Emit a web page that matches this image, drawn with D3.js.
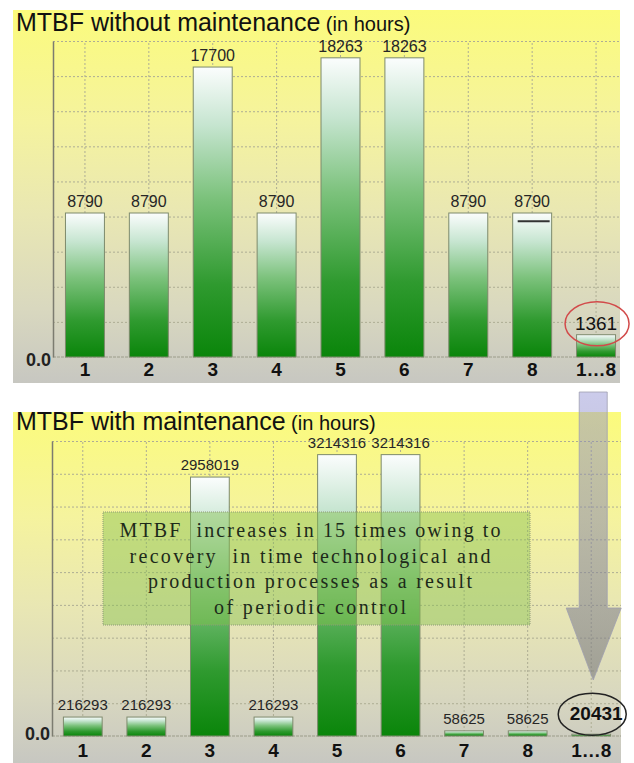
<!DOCTYPE html>
<html>
<head>
<meta charset="utf-8">
<script src="https://cdn.jsdelivr.net/npm/d3@7"></script>
<style>
    body { margin: 0; background: #ffffff; }
    svg { display: block; }
    text { font-family: "Liberation Sans", Arial, sans-serif; }
</style>
</head>
<body>
<div id="chart"></div>
<script>

// data
let categories = ["1", "2", "3", "4", "5", "6", "7", "8", "1…8"];
let mtbfWithout = [8790, 8790, 17700, 8790, 18263, 18263, 8790, 8790, 1361];
let mtbfWith = [216293, 216293, 2958019, 216293, 3214316, 3214316, 58625, 58625, 20431];
let axisMaxWithout = 19290;
let axisMaxWith = 3370000;
let gridCount = 9;
let strayMark = {category: "8", value: 8280};
let noteLines = [
    "MTBF  increases in 15 times owing to",
    "recovery  in time technological and",
    "production processes as a result",
    "of periodic control"
];
let noteWidths = [381, 361, 324, 192];


/* * * * * * * * * * * * * *
*      class MtbfPanel     *
* * * * * * * * * * * * * */

class MtbfPanel {

    constructor(svg, values, opts) {
        this.svg = svg;
        this.values = values;
        this.opts = opts;
        this.initVis();
    }

    initVis() {
        let vis = this;
        let o = vis.opts;

        vis.g = vis.svg.append("g");

        // panel background
        vis.g.append("rect")
            .attr("x", o.left)
            .attr("y", o.top)
            .attr("width", o.right - o.left)
            .attr("height", o.bottom - o.top)
            .attr("fill", "url(#panelBg)");

        vis.x = d3.scaleBand()
            .domain(categories)
            .range([o.plotLeft, o.plotRight])
            .paddingInner(0.39)
            .paddingOuter(0.195);

        vis.y = d3.scaleLinear()
            .domain([0, o.yMax])
            .range([o.baseY, o.gridTop]);

        // horizontal grid
        let gridVals = d3.range(1, gridCount + 1).map(i => o.yMax * i / gridCount);
        vis.g.append("g")
            .attr("transform", `translate(${o.axisX},0)`)
            .call(d3.axisLeft(vis.y).tickValues(gridVals).tickSize(-(o.gridRight - o.axisX)).tickFormat(""))
            .call(g => g.select(".domain").remove())
            .selectAll("line")
            .attr("stroke", "#aead94")
            .attr("stroke-dasharray", "2,2");

        // vertical grid through bar centres
        vis.g.append("g")
            .attr("transform", `translate(0,${o.baseY})`)
            .call(d3.axisBottom(vis.x).tickSize(-(o.baseY - o.gridTop)).tickFormat(""))
            .call(g => g.select(".domain").remove())
            .selectAll("line")
            .attr("stroke", "#aead94")
            .attr("stroke-dasharray", "2,2");

        // baseline
        vis.g.append("line")
            .attr("x1", o.axisX).attr("x2", o.gridRight)
            .attr("y1", o.baseY).attr("y2", o.baseY)
            .attr("stroke", "#9c9c8a")
            .attr("stroke-dasharray", "3,1");

        // y axis, only 0.0 is labelled
        let yAxisG = vis.g.append("g")
            .attr("transform", `translate(${o.axisX},0)`)
            .call(d3.axisLeft(vis.y).tickValues([0]).tickSize(0).tickSizeOuter(0).tickPadding(2).tickFormat(d3.format(".1f")));
        yAxisG.select(".domain").attr("stroke", "#7c7c70").attr("stroke-width", 1.5);
        yAxisG.selectAll("text")
            .attr("dy", o.zeroDy)
            .attr("font-size", 18)
            .attr("font-weight", "bold")
            .attr("fill", "#222");

        // x axis labels
        let xAxisG = vis.g.append("g")
            .attr("transform", `translate(0,${o.baseY})`)
            .call(d3.axisBottom(vis.x).tickSize(0).tickPadding(o.labelPad));
        xAxisG.select(".domain").remove();
        xAxisG.selectAll("text")
            .attr("font-size", 19)
            .attr("font-weight", "bold")
            .attr("fill", "#111");

        // title
        let title = vis.g.append("text")
            .attr("x", 16)
            .attr("y", o.titleY)
            .attr("fill", "#111");
        title.append("tspan").attr("font-size", 25).text(o.title);
        title.append("tspan").attr("font-size", 20).text(" (in hours)");

        vis.updateVis();
    }

    updateVis() {
        let vis = this;
        let o = vis.opts;
        let data = categories.map((c, i) => ({cat: c, val: vis.values[i], last: i === categories.length - 1}));

        vis.g.selectAll(".bar")
            .data(data)
            .join("rect")
            .attr("class", "bar")
            .attr("x", d => vis.x(d.cat))
            .attr("y", d => vis.y(d.val))
            .attr("width", vis.x.bandwidth())
            .attr("height", d => o.baseY - vis.y(d.val))
            .attr("fill", "url(#barFill)")
            .attr("stroke", "#7d8a6c")
            .attr("stroke-width", 1);

        vis.g.selectAll(".val")
            .data(data.filter(d => !d.last))
            .join("text")
            .attr("class", "val")
            .attr("x", d => vis.x(d.cat) + vis.x.bandwidth() / 2)
            .attr("y", d => vis.y(d.val) - o.valueGap)
            .attr("text-anchor", "middle")
            .attr("font-size", o.valueSize)
            .attr("fill", "#262626")
            .text(d => d.val);

        // the summary bar gets a bigger label in an ellipse
        let last = data[data.length - 1];
        let cx = vis.x(last.cat) + vis.x.bandwidth() / 2;
        let ly = vis.y(last.val) - o.lastGap;
        vis.g.append("text")
            .attr("x", cx + o.lastShift)
            .attr("y", ly)
            .attr("text-anchor", "middle")
            .attr("font-size", 19)
            .attr("font-weight", o.lastWeight)
            .attr("fill", "#111")
            .text(last.val);
        vis.g.append("ellipse")
            .attr("cx", cx + 1)
            .attr("cy", ly - 6)
            .attr("rx", o.ellipse[0])
            .attr("ry", o.ellipse[1])
            .attr("fill", "none")
            .attr("stroke", o.ellipseColor)
            .attr("stroke-width", 1.5);
    }
}


let svg = d3.select("#chart").append("svg")
    .attr("width", 634)
    .attr("height", 763);

let defs = svg.append("defs");

let bg = defs.append("linearGradient").attr("id", "panelBg")
    .attr("x1", 0).attr("y1", 0).attr("x2", 0).attr("y2", 1);
[[0, "#fbfb7c"], [0.3, "#f5f39e"], [0.55, "#e9e7b3"], [0.8, "#d9d8bf"], [1, "#c7c7c1"]]
    .forEach(s => bg.append("stop").attr("offset", s[0]).attr("stop-color", s[1]));

let bf = defs.append("linearGradient").attr("id", "barFill")
    .attr("x1", 0).attr("y1", 0).attr("x2", 0).attr("y2", 1);
[[0, "#fbfdfd"], [0.2, "#c6e5d0"], [0.45, "#7cc27c"], [0.75, "#2f9a2f"], [1, "#0a850a"]]
    .forEach(s => bf.append("stop").attr("offset", s[0]).attr("stop-color", s[1]));

let af = defs.append("linearGradient").attr("id", "arrowFill")
    .attr("x1", 0).attr("y1", 0).attr("x2", 0).attr("y2", 1);
af.append("stop").attr("offset", 0).attr("stop-color", "#8c8cd2").attr("stop-opacity", 0.45);
af.append("stop").attr("offset", 1).attr("stop-color", "#7a7a7a").attr("stop-opacity", 0.6);

let topPanel = new MtbfPanel(svg, mtbfWithout, {
    left: 13, right: 620, top: 10, bottom: 383,
    axisX: 53, gridRight: 620, gridTop: 41, baseY: 357,
    plotLeft: 53, plotRight: 628, yMax: axisMaxWithout,
    labelPad: 6, zeroDy: "0.45em", titleY: 31, valueGap: 6, valueSize: 16,
    title: "MTBF without maintenance",
    lastGap: 5, lastShift: 0, lastWeight: "normal",
    ellipse: [32, 22], ellipseColor: "#d24a4a"
});

// small dark dash on bar 8
topPanel.g.append("line")
    .attr("x1", topPanel.x(strayMark.category) + 5)
    .attr("x2", topPanel.x(strayMark.category) + topPanel.x.bandwidth() - 2)
    .attr("y1", topPanel.y(strayMark.value))
    .attr("y2", topPanel.y(strayMark.value))
    .attr("stroke", "#333")
    .attr("stroke-width", 2);

let bottomPanel = new MtbfPanel(svg, mtbfWith, {
    left: 13, right: 621, top: 412, bottom: 763,
    axisX: 52, gridRight: 621, gridTop: 441, baseY: 736,
    plotLeft: 51, plotRight: 623, yMax: axisMaxWith,
    labelPad: 8, zeroDy: "0.22em", titleY: 430, valueGap: 7, valueSize: 15,
    title: "MTBF with maintenance",
    lastGap: 14, lastShift: 5, lastWeight: "bold",
    ellipse: [34, 21], ellipseColor: "#222"
});

// note box
let note = svg.append("g");
note.append("rect")
    .attr("x", 103).attr("y", 512)
    .attr("width", 427).attr("height", 113)
    .attr("fill", "#86c24e")
    .attr("fill-opacity", 0.45)
    .attr("stroke", "#8d9a78")
    .attr("stroke-dasharray", "1,1");
note.selectAll("text")
    .data(noteLines)
    .join("text")
    .attr("x", 310)
    .attr("y", (d, i) => 537 + i * 25.5)
    .attr("text-anchor", "middle")
    .attr("textLength", (d, i) => noteWidths[i])
    .attr("lengthAdjust", "spacing")
    .style("font-family", "'Liberation Serif', 'Times New Roman', serif")
    .style("white-space", "pre")
    .attr("font-size", 20)
    .attr("fill", "#1d2a1a")
    .text(d => d);

// arrow from the top summary down to the bottom summary
let ax = bottomPanel.x("1…8") + bottomPanel.x.bandwidth() / 2 + 2;
svg.append("path")
    .attr("d", `M${ax - 14},392 H${ax + 14} V608 H${ax + 28} L${ax},680 L${ax - 27},608 H${ax - 14} Z`)
    .attr("fill", "url(#arrowFill)")
    .attr("stroke", "#a0a0b0")
    .attr("stroke-width", 0.8);

</script>
</body>
</html>
